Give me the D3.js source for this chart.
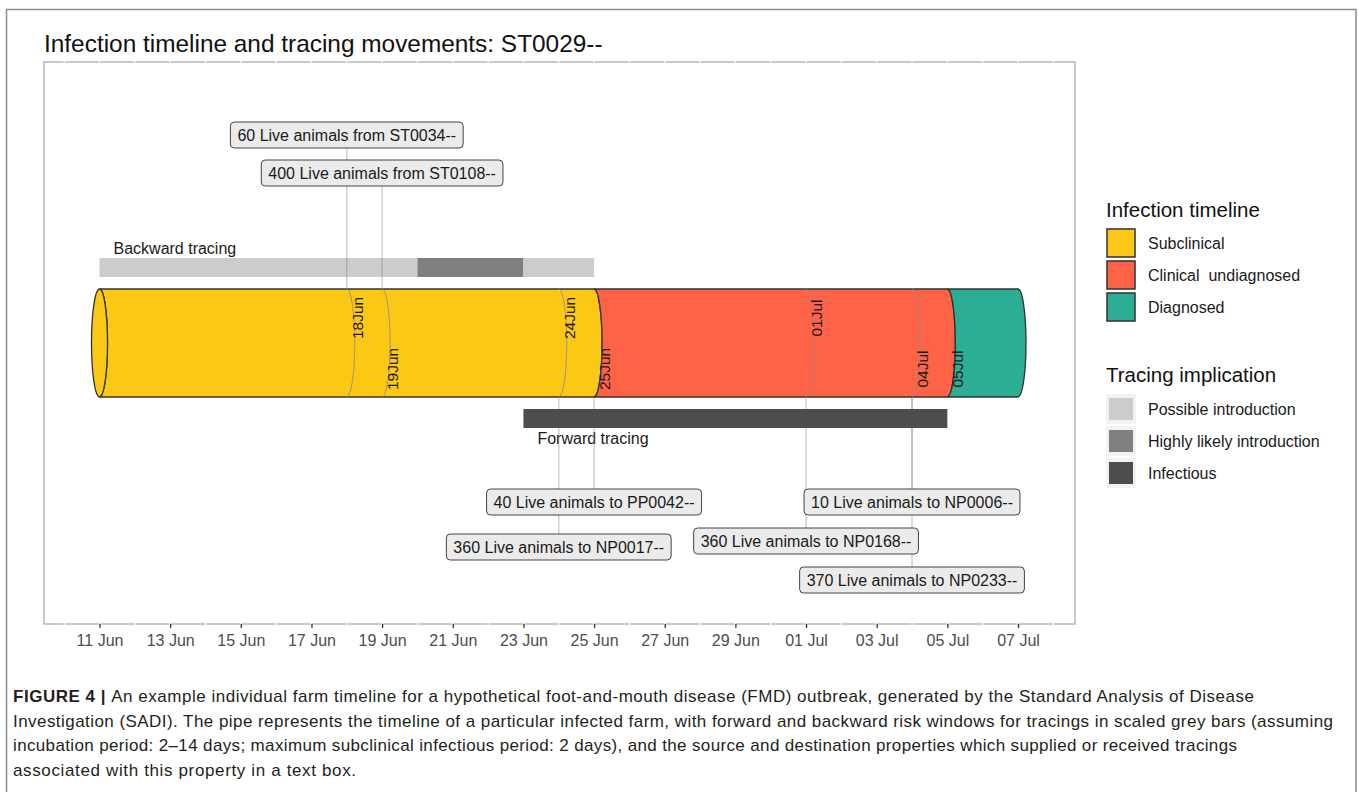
<!DOCTYPE html>
<html>
<head>
<meta charset="utf-8">
<script src="https://cdn.jsdelivr.net/npm/d3@7"></script>
<style>
  body { margin: 0; background: #fff; }
  svg text { font-family: "Liberation Sans", Arial, sans-serif; }
</style>
</head>
<body>
<script>
/* Data */
var phaseNames = ["Subclinical", "Clinical  undiagnosed", "Diagnosed"];
var phaseStart = ["2016-06-11", "2016-06-25", "2016-07-05"];
var phaseEnd   = ["2016-06-25", "2016-07-05", "2016-07-07"];

var tracingKinds  = ["Possible introduction", "Highly likely introduction", "Infectious"];
var backwardStart = ["2016-06-11", "2016-06-20", "2016-06-23"];
var backwardEnd   = ["2016-06-20", "2016-06-23", "2016-06-25"];
var backwardKind  = ["Possible introduction", "Highly likely introduction", "Possible introduction"];
var forwardStart  = ["2016-06-23"];
var forwardEnd    = ["2016-07-05"];
var forwardKind   = ["Infectious"];

var moveDate  = ["2016-06-18", "2016-06-19", "2016-06-25", "2016-06-24", "2016-07-04", "2016-07-01", "2016-07-04"];
var moveCount = [60, 400, 40, 360, 10, 360, 370];
var moveDir   = ["from", "from", "to", "to", "to", "to", "to"];
var moveFarm  = ["ST0034--", "ST0108--", "PP0042--", "NP0017--", "NP0006--", "NP0168--", "NP0233--"];

var tickDates = ["2016-06-11", "2016-06-13", "2016-06-15", "2016-06-17", "2016-06-19", "2016-06-21",
                 "2016-06-23", "2016-06-25", "2016-06-27", "2016-06-29", "2016-07-01", "2016-07-03",
                 "2016-07-05", "2016-07-07"];

var titleText = "Infection timeline and tracing movements: ST0029--";
var captionLines = [
  "An example individual farm timeline for a hypothetical foot-and-mouth disease (FMD) outbreak, generated by the Standard Analysis of Disease",
  "Investigation (SADI). The pipe represents the timeline of a particular infected farm, with forward and backward risk windows for tracings in scaled grey bars (assuming",
  "incubation period: 2\u201314 days; maximum subclinical infectious period: 2 days), and the source and destination properties which supplied or received tracings",
  "associated with this property in a text box."
];

/* Layout */
var W = 1358, H = 792;
var panel = { left: 44, right: 1075, top: 62, bottom: 624 };
var pipe = { top: 289, bottom: 397, rx: 8 };
var backBar = { top: 258, h: 19 };
var fwdBar = { top: 409, h: 19 };
// label box centres (repelled positions), same order as the movements
var boxY = [135, 173, 502, 547, 502, 541, 580];
var labelSide = { "18Jun": -25, "19Jun": 26, "24Jun": -25, "25Jun": 26, "01Jul": -25, "04Jul": 26, "05Jul": 26 };

var parse = d3.utcParse("%Y-%m-%d");
var x = d3.scaleUtc()
  .domain([parse("2016-06-11"), parse("2016-07-07")])
  .range([99.5, 1018]);

var phaseColor = d3.scaleOrdinal().domain(phaseNames).range(["#FCC816", "#FF6347", "#2BAE94"]);
var traceColor = d3.scaleOrdinal().domain(tracingKinds).range(["#CCCCCC", "#7F7F7F", "#4D4D4D"]);

var svg = d3.select("body").append("svg")
  .attr("width", W).attr("height", H);

// outer figure frame
svg.append("path")
  .attr("d", "M6.5," + (H + 5) + "V9.5H1356V" + (H + 5))
  .attr("fill", "none").attr("stroke", "#8c8c8c").attr("stroke-width", 1.5);

svg.append("text")
  .attr("x", panel.left).attr("y", 52)
  .attr("font-size", 24.4).attr("fill", "#111")
  .text(titleText);

/* Panel border with small breaks at each day */
svg.append("rect")
  .attr("x", panel.left).attr("y", panel.top)
  .attr("width", panel.right - panel.left).attr("height", panel.bottom - panel.top)
  .attr("fill", "none").attr("stroke", "#b3b3b3").attr("stroke-width", 1.4);

var allDays = d3.utcDay.range(x.invert(panel.left + 2), x.invert(panel.right - 2));
svg.append("g").selectAll("line.gap")
  .data(allDays.concat(allDays))
  .join("line")
  .attr("x1", function(d) { return x(d); })
  .attr("x2", function(d) { return x(d); })
  .attr("y1", function(d, i) { return i < allDays.length ? panel.top - 1.5 : panel.bottom - 1.5; })
  .attr("y2", function(d, i) { return i < allDays.length ? panel.top + 1.5 : panel.bottom + 1.5; })
  .attr("stroke", "#fff").attr("stroke-width", 1.2);

/* x axis */
var axis = d3.axisBottom(x)
  .tickValues(tickDates.map(parse))
  .tickFormat(d3.utcFormat("%d %b"))
  .tickSize(4).tickPadding(7);
var gx = svg.append("g").attr("transform", "translate(0," + panel.bottom + ")").call(axis);
gx.select(".domain").remove();
gx.selectAll(".tick line").attr("stroke", "#333").attr("stroke-width", 1.3);
gx.selectAll(".tick text")
  .attr("font-size", 16).attr("fill", "#4D4D4D")
  .attr("font-family", "Liberation Sans, Arial, sans-serif");

/* Tracing windows */
var drawBars = function(starts, ends, kinds, bar) {
  svg.append("g").selectAll("rect")
    .data(starts)
    .join("rect")
    .attr("x", function(d) { return x(parse(d)); })
    .attr("width", function(d, i) { return x(parse(ends[i])) - x(parse(d)); })
    .attr("y", bar.top).attr("height", bar.h)
    .attr("fill", function(d, i) { return traceColor(kinds[i]); });
};
drawBars(backwardStart, backwardEnd, backwardKind, backBar);

svg.append("text")
  .attr("x", x(parse(backwardStart[0])) + 14).attr("y", backBar.top - 4)
  .attr("font-size", 16).attr("fill", "#1a1a1a")
  .text("Backward tracing");
svg.append("text")
  .attr("x", x(parse(forwardStart[0])) + 14).attr("y", fwdBar.top + fwdBar.h + 16)
  .attr("font-size", 16).attr("fill", "#1a1a1a")
  .text("Forward tracing");

/* Pipe */
var ry = (pipe.bottom - pipe.top) / 2;
var segPath = function(x0, x1) {
  return "M" + x0 + "," + pipe.top + "L" + x1 + "," + pipe.top +
    "A" + pipe.rx + "," + ry + " 0 0 1 " + x1 + "," + pipe.bottom +
    "L" + x0 + "," + pipe.bottom +
    "A" + pipe.rx + "," + ry + " 0 0 0 " + x0 + "," + pipe.top + "Z";
};
var gPipe = svg.append("g");
gPipe.selectAll("path.seg")
  .data(phaseNames)
  .join("path")
  .attr("class", "seg")
  .attr("d", function(d, i) { return segPath(x(parse(phaseStart[i])), x(parse(phaseEnd[i]))); })
  .attr("fill", function(d) { return phaseColor(d); })
  .attr("stroke", "#333").attr("stroke-width", 1.3);
// left cap of the pipe
gPipe.append("ellipse")
  .attr("cx", x(parse(phaseStart[0]))).attr("cy", (pipe.top + pipe.bottom) / 2)
  .attr("rx", pipe.rx).attr("ry", ry)
  .attr("fill", phaseColor(phaseNames[0]))
  .attr("stroke", "#333").attr("stroke-width", 1.3);

// movement date rings
var ringDates = Array.from(new Set(moveDate)).filter(function(d) { return phaseStart.indexOf(d) < 0; });
gPipe.selectAll("path.ring")
  .data(ringDates)
  .join("path")
  .attr("class", "ring")
  .attr("d", function(d) {
    var xd = x(parse(d));
    return "M" + xd + "," + pipe.top + "A" + pipe.rx + "," + ry + " 0 0 1 " + xd + "," + pipe.bottom;
  })
  .attr("fill", "none").attr("stroke", "#8a8a8a").attr("stroke-width", 0.8);

/* Vertical tracing lines */
svg.append("g").selectAll("line")
  .data(moveDate)
  .join("line")
  .attr("x1", function(d) { return x(parse(d)); })
  .attr("x2", function(d) { return x(parse(d)); })
  .attr("y1", function(d, i) { return moveDir[i] === "from" ? boxY[i] + 13 : pipe.bottom; })
  .attr("y2", function(d, i) { return moveDir[i] === "from" ? pipe.top : boxY[i] - 13; })
  .attr("stroke", "#808080").attr("stroke-opacity", 0.38).attr("stroke-width", 1.5);

// forward bar sits over the lines
drawBars(forwardStart, forwardEnd, forwardKind, fwdBar);

/* Date labels inside the pipe */
var fmtShort = d3.utcFormat("%d%b");
var labelDates = Array.from(new Set(moveDate.concat(phaseStart.slice(1)))).sort();
var midY = (pipe.top + pipe.bottom) / 2;
svg.append("g").selectAll("text")
  .data(labelDates)
  .join("text")
  .attr("transform", function(d) {
    return "translate(" + (x(parse(d)) + 16) + "," + (midY + labelSide[fmtShort(parse(d))]) + ") rotate(-90)";
  })
  .attr("text-anchor", "middle")
  .attr("font-size", 15.5).attr("fill", "#1a1a1a")
  .text(function(d) { return fmtShort(parse(d)); });

/* Movement label boxes */
var gBox = svg.append("g").selectAll("g")
  .data(moveDate)
  .join("g")
  .attr("transform", function(d, i) { return "translate(" + x(parse(d)) + "," + boxY[i] + ")"; });
gBox.append("rect").attr("class", "bx");
gBox.append("text")
  .attr("text-anchor", "middle").attr("dy", "0.36em")
  .attr("font-size", 16).attr("fill", "#1a1a1a")
  .text(function(d, i) { return moveCount[i] + " Live animals " + moveDir[i] + " " + moveFarm[i]; });
gBox.each(function() {
  var g = d3.select(this);
  var w = g.select("text").node().getComputedTextLength() + 14;
  g.select("rect")
    .attr("x", -w / 2).attr("y", -13).attr("width", w).attr("height", 26)
    .attr("rx", 4).attr("ry", 4)
    .attr("fill", "#EBEBEB").attr("stroke", "#444").attr("stroke-width", 1);
});

/* Legends */
var legX = 1106;
var legend1 = svg.append("g");
legend1.append("text").attr("x", legX).attr("y", 217).attr("font-size", 20.5).attr("fill", "#111")
  .text("Infection timeline");
var l1 = legend1.selectAll("g").data(phaseNames).join("g")
  .attr("transform", function(d, i) { return "translate(" + legX + "," + (228 + i * 32) + ")"; });
l1.append("rect").attr("width", 30).attr("height", 30).attr("fill", "#F2F2F2");
l1.append("rect").attr("x", 1).attr("y", 1).attr("width", 28).attr("height", 28)
  .attr("fill", function(d) { return phaseColor(d); })
  .attr("stroke", "#333").attr("stroke-width", 1.5);
l1.append("text").attr("x", 42).attr("y", 15).attr("dy", "0.36em")
  .attr("font-size", 16).attr("fill", "#1a1a1a")
  .style("white-space", "pre")
  .text(function(d) { return d; });

var legend2 = svg.append("g");
legend2.append("text").attr("x", legX).attr("y", 382).attr("font-size", 20.5).attr("fill", "#111")
  .text("Tracing implication");
var l2 = legend2.selectAll("g").data(tracingKinds).join("g")
  .attr("transform", function(d, i) { return "translate(" + legX + "," + (394 + i * 32) + ")"; });
l2.append("rect").attr("width", 30).attr("height", 30).attr("fill", "#F2F2F2");
l2.append("rect").attr("x", 3).attr("y", 4).attr("width", 24).attr("height", 22)
  .attr("fill", function(d) { return traceColor(d); });
l2.append("text").attr("x", 42).attr("y", 15).attr("dy", "0.36em")
  .attr("font-size", 16).attr("fill", "#1a1a1a")
  .text(function(d) { return d; });

/* Caption */
var capEnds = [1254, 1333, 1237, 356];
var cap = svg.append("g").selectAll("text")
  .data(captionLines)
  .join("text")
  .attr("x", 13)
  .attr("y", function(d, i) { return 702 + i * 24.7; })
  .attr("font-size", 17).attr("fill", "#231F20")
  .attr("textLength", function(d, i) { return capEnds[i] - 13; })
  .attr("lengthAdjust", "spacing");
cap.filter(function(d, i) { return i === 0; })
  .append("tspan").attr("font-weight", "bold").text("FIGURE 4 | ");
cap.append("tspan").text(function(d) { return d; });
</script>
</body>
</html>
